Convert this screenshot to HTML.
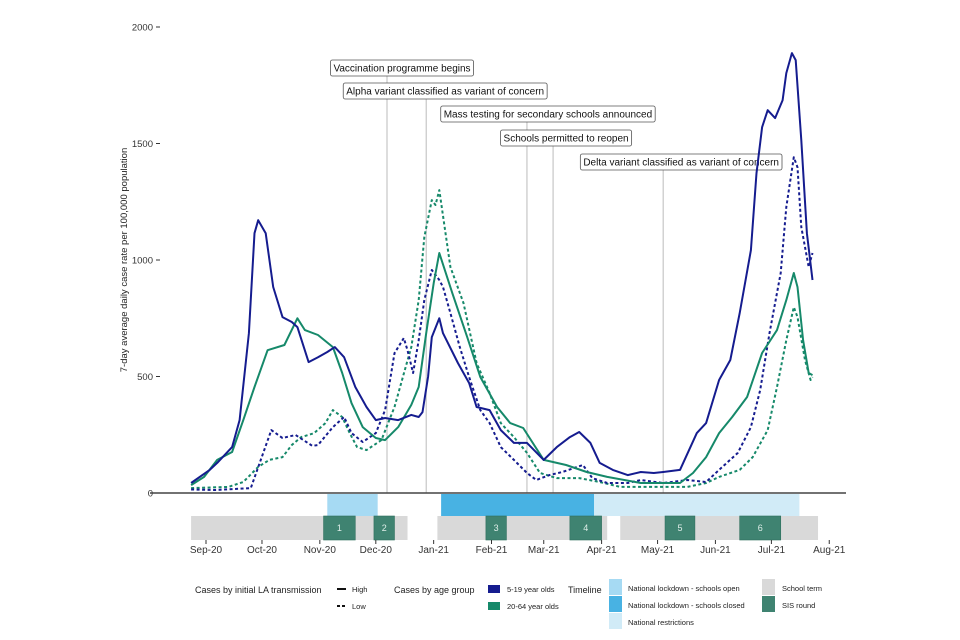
<!DOCTYPE html>
<html><head><meta charset="utf-8"><style>
body{margin:0;background:#fff;}
svg{display:block;font-family:"Liberation Sans",sans-serif;}
</style></head><body>
<svg id="chart" width="960" height="640" viewBox="0 0 960 640"></svg>
<script>
// data (days since 2020-09-01, 7-day avg case rate per 100k)
const yTicks = [0, 500, 1000, 1500, 2000];
const monthLabels = ["Sep-20","Oct-20","Nov-20","Dec-20","Jan-21","Feb-21","Mar-21","Apr-21","May-21","Jun-21","Jul-21","Aug-21"];
const monthDays = [0,30,61,91,122,153,181,212,242,273,303,334];
const highYoungDays = [-8,2,6,14,18,23,26,28,32,36,41,46,49,55,60,65,69,74,80,86,91,96,103,110,114,116,119,121,125,127,135,141,145,152,158,165,172,181,188,195,200,206,211,218,226,233,240,245,254,263,268,275,281,286,292,295,298,301,305,309,311,314,316,319,322,325];
const highYoungVals = [43,99,129,197,313,686,1115,1171,1115,884,755,734,712,562,583,605,626,583,455,369,313,322,313,335,326,347,500,669,750,686,558,472,369,356,270,215,215,142,197,240,262,215,129,99,77,90,86,90,99,257,300,485,571,772,1042,1373,1570,1643,1609,1686,1802,1888,1858,1514,1115,914];
const lowYoungDays = [-8,5,24,35,41,48,57,60,68,74,78,84,91,96,101,106,108,111,114,117,121,125,127,131,136,141,147,152,158,165,172,177,184,191,202,207,215,226,233,245,258,268,275,285,292,297,302,308,311,315,317,319,323,325];
const lowYoungVals = [15,13,21,270,236,249,202,206,283,326,257,219,257,356,600,665,613,515,656,828,957,914,884,772,626,498,356,300,197,142,86,56,77,90,120,64,43,43,56,43,56,47,99,172,283,442,686,944,1227,1441,1398,1141,970,1030];
const highAdultDays = [-8,-1,6,14,20,26,33,42,49,53,60,68,73,78,84,91,96,103,110,114,118,122,125,132,140,147,156,163,170,181,193,204,215,233,254,261,268,275,282,290,298,306,311,315,317,320,323,325];
const highAdultVals = [34,69,142,176,313,455,613,635,750,699,678,626,515,386,283,236,227,283,378,455,686,901,1030,858,669,498,369,300,279,142,120,90,69,43,43,86,154,257,326,412,601,699,828,944,884,656,515,506];
const lowAdultDays = [-8,12,20,28,34,41,46,51,58,64,68,73,77,81,86,94,101,107,110,114,117,121,123,125,131,138,145,152,158,165,172,179,188,200,211,222,258,268,275,286,293,301,306,311,315,317,321,324,325];
const lowAdultVals = [21,26,47,112,142,154,206,240,257,300,356,326,257,197,184,227,369,541,626,828,1098,1257,1236,1300,970,815,558,429,300,240,172,86,64,64,47,26,26,43,69,99,154,270,455,656,798,755,571,485,498];
const eventNames = ["Vaccination programme begins","Alpha variant classified as variant of concern","Mass testing for secondary schools announced","Schools permitted to reopen","Delta variant classified as variant of concern"];
const eventDays = [97,118,172,186,245];
const lockOpen = [[65,92]];
const lockClosed = [[126,208]];
const restrictions = [[208,318]];
const schoolTerms = [[-8,108],[124,215],[222,328]];
const sisRounds = [["1",63,80],["2",90,101],["3",150,161],["4",195,212],["5",246,262],["6",286,308]];

const NS="http://www.w3.org/2000/svg";
const svg=document.getElementById('chart');
const X0=206, PXD=1.866, Y0=493, PXV=116.5/500;
const xs=d=>X0+d*PXD;
const ys=v=>Y0-v*PXV;
function mk(tag,at,parent){const e=document.createElementNS(NS,tag);for(const k in at)e.setAttribute(k,at[k]);(parent||svg).appendChild(e);return e;}
const NAVY="#151c8f", TEAL="#16896a";

// y axis
yTicks.forEach(v=>{
  const t=mk('line',{x1:156,x2:160,y1:ys(v),y2:ys(v),stroke:'#333','stroke-width':1});
  
  
  const l=mk('text',{x:153,y:ys(v)+3.5,'text-anchor':'end','font-size':9.5,fill:'#333'});
  l.textContent=v;
  
  
});
const yt=mk('text',{x:0,y:0,'text-anchor':'middle','font-size':9.5,fill:'#222',transform:'translate(127,260) rotate(-90)'});
yt.textContent="7-day average daily case rate per 100,000 population";



// event lines + labels
const boxTops=[60,83,106,130,154];
const boxShift=[15,19,21,13,18];
eventNames.forEach((n,i)=>{
  const x=xs(eventDays[i]);
  const by=boxTops[i];
  const ln=mk('line',{x1:x,x2:x,y1:by+16,y2:Y0,stroke:'#bbb','stroke-width':1});
  
  
  const r=mk('rect',{x:0,y:by,width:10,height:16,rx:2,fill:'#fff',stroke:'#555','stroke-width':0.8});
  
  
  const cx=x+boxShift[i];
  const t=mk('text',{x:cx,y:by+11.5,'text-anchor':'middle','font-size':10,fill:'#111'});
  t.textContent=n;
  
  
  let w=t.getComputedTextLength ? t.getComputedTextLength() : n.length*4.6;
  if(!w) w=n.length*4.6;
  w+=6;
  r.setAttribute('x',cx-w/2);
  r.setAttribute('width',w);
});

// series
function series(days,vals,color,dash,name){
  const d=days.map((dd,i)=>(i?'L':'M')+xs(dd).toFixed(1)+','+ys(vals[i]).toFixed(1)).join('');
  const p=mk('path',{d:d,fill:'none',stroke:color,'stroke-width':2,'stroke-linejoin':'round'});
  if(dash)p.setAttribute('stroke-dasharray','3,2.5');
  
  
}
series(lowAdultDays,lowAdultVals,TEAL,true,'line-low-20-64');
series(lowYoungDays,lowYoungVals,NAVY,true,'line-low-5-19');
series(highAdultDays,highAdultVals,TEAL,false,'line-high-20-64');
series(highYoungDays,highYoungVals,NAVY,false,'line-high-5-19');

// x axis line
const ax=mk('line',{x1:150,x2:846,y1:Y0,y2:Y0,stroke:'#444','stroke-width':1.5});



// timeline
function band(arr,y,h,color,name){arr.forEach(a=>{const r=mk('rect',{x:xs(a[0]),y:y,width:xs(a[1])-xs(a[0]),height:h,fill:color});
  
  });}
band(lockOpen,494,22,'#a6daf3','lockdown-schools-open-band');
band(lockClosed,494,22,'#48b2e3','lockdown-schools-closed-band');
band(restrictions,494,22,'#d1ebf7','national-restrictions-band');
band(schoolTerms,516,24,'#d9d9d9','school-term-band');
sisRounds.forEach(s=>{
  const r=mk('rect',{x:xs(s[1]),y:516,width:xs(s[2])-xs(s[1]),height:24,fill:'#3f8371',stroke:'#2f6f5e','stroke-width':0.6});
  
  
  const t=mk('text',{x:(xs(s[1])+xs(s[2]))/2,y:531,'text-anchor':'middle','font-size':9,fill:'#dfeee9'});
  t.textContent=s[0];
  
  
});
monthLabels.forEach((m,i)=>{
  const x=xs(monthDays[i]);
  const tk=mk('line',{x1:x,x2:x,y1:540,y2:544,stroke:'#333','stroke-width':1});
  
  
  const t=mk('text',{x:x,y:553,'text-anchor':'middle','font-size':10,fill:'#333'});
  t.textContent=m;
  
  
});

// legend
function txt(x,y,s,fs,name){const t=mk('text',{x:x,y:y,'font-size':fs,fill:'#222'});t.textContent=s;
  
  return t;}
txt(195,593,"Cases by initial LA transmission",9,'legend-title-transmission');
let l1=mk('line',{x1:337,x2:346,y1:589,y2:589,stroke:'#111','stroke-width':2});


txt(352,592,"High",7.5,'legend-high-label');
let l2=mk('line',{x1:337,x2:346,y1:606,y2:606,stroke:'#111','stroke-width':2,'stroke-dasharray':'3,2'});


txt(352,609,"Low",7.5,'legend-low-label');
txt(394,593,"Cases by age group",9,'legend-title-age');
let s1=mk('rect',{x:488,y:585,width:12,height:8,fill:NAVY});


txt(507,592,"5-19 year olds",7.5,'legend-5-19-label');
let s2=mk('rect',{x:488,y:602,width:12,height:8,fill:TEAL});


txt(507,609,"20-64 year olds",7.5,'legend-20-64-label');
txt(568,593,"Timeline",9,'legend-title-timeline');
const tl=[["#a6daf3","National lockdown - schools open",579],["#48b2e3","National lockdown - schools closed",596],["#d1ebf7","National restrictions",613]];
tl.forEach(e=>{const r=mk('rect',{x:609,y:e[2],width:13,height:16,fill:e[0]});
  
  
  txt(628,e[2]+12,e[1],7.5,'legend-timeline-label');});
let s3=mk('rect',{x:762,y:579,width:13,height:16,fill:'#d9d9d9'});


txt(782,591,"School term",7.5,'legend-school-term-label');
let s4=mk('rect',{x:762,y:596,width:13,height:16,fill:'#3f8371'});


txt(782,608,"SIS round",7.5,'legend-sis-round-label');
</script>
</body></html>
